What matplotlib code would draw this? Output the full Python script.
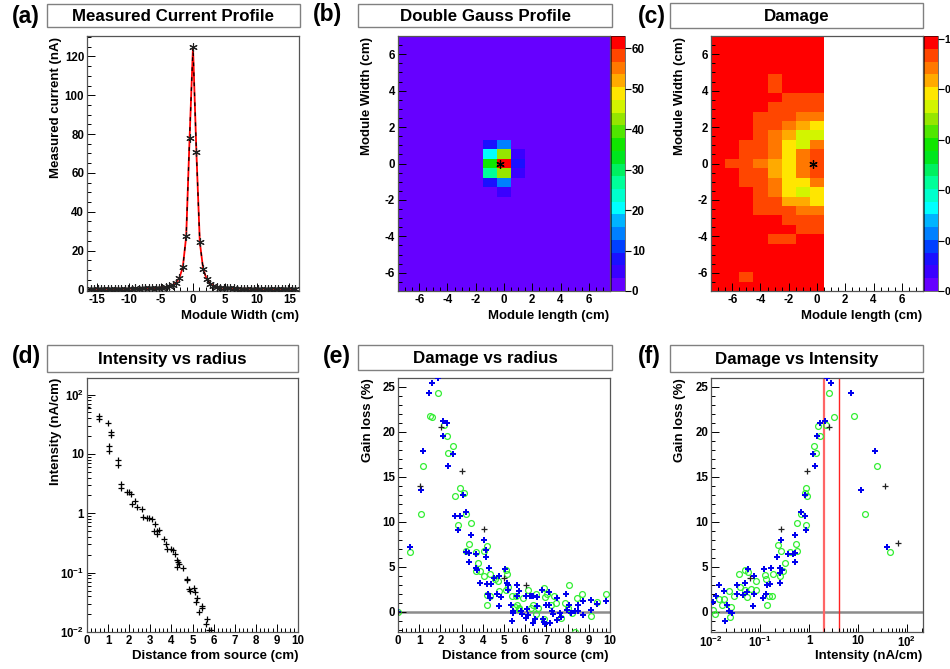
import numpy as np
import matplotlib
matplotlib.use("Agg")
import matplotlib.pyplot as plt
from matplotlib.colors import ListedColormap, BoundaryNorm
from matplotlib.patches import Rectangle
from matplotlib.ticker import MultipleLocator, LogLocator, FuncFormatter, NullFormatter

plt.rcParams['font.family'] = ['Liberation Sans', 'DejaVu Sans']
plt.rcParams['font.weight'] = 'bold'
plt.rcParams['axes.unicode_minus'] = False
plt.rcParams['mathtext.fontset'] = 'custom'
plt.rcParams['mathtext.default'] = 'bf'
plt.rcParams['mathtext.rm'] = 'Liberation Sans:bold'
plt.rcParams['mathtext.bf'] = 'Liberation Sans:bold'
plt.rcParams['mathtext.it'] = 'Liberation Sans:bold'

# ---------------- data ----------------
# (a) measured current profile, bins of 0.53 cm
bin_a = np.arange(-30, 31)
step_a = 0.53
cur_a = [0.2, 0.3, 0.2, 0.3, 0.3, 0.2, 0.3, 0.3, 0.4, 0.3,
         0.4, 0.3, 0.4, 0.5, 0.4, 0.5, 0.6, 0.7, 0.6, 0.7,
         0.8, 1.0, 1.2, 1.6, 2.3, 3.4, 6.0, 11.4, 27.3, 78.0,
         125.0,
         70.6, 24.3, 10.3, 5.5, 2.9, 2.0, 1.4, 1.0, 0.8, 0.6,
         0.5, 0.5, 0.4, 0.4, 0.3, 0.4, 0.3, 0.3, 0.2, 0.3,
         0.3, 0.2, 0.3, 0.2, 0.2, 0.3, 0.2, 0.2, 0.3, 0.2]

# map binning (b), (c)
x_edges = np.linspace(-7.5, 7.5, 16)
y_edges = np.linspace(-7, 7, 28)
src_x, src_y = -0.28, 0.0

# (b) double gauss profile: background + hot cells (x centre, y bin index)
gauss_bg = 0.5
hot_x = [-1, 0, -1, 0, 1, -1, 0, 1, -1, 0, 1, -1, 0, 0]
hot_row = [15, 15, 14, 14, 14, 13, 13, 13, 12, 12, 12, 11, 11, 10]
hot_val = [9, 14, 20, 42, 5, 36, 62, 8, 26, 42, 5, 9, 15, 5]

# (c) damage, columns x = -7 .. 0, rows from bottom (bin 0) to top (bin 26)
R, RO, O, LO, Y, YG = 0.98, 0.93, 0.88, 0.83, 0.78, 0.73
damage_rows = [
    [R, R, R, R, R, R, R, R],        # 0
    [R, R, RO, R, R, R, R, R],       # 1
    [R, R, R, R, R, R, R, R],        # 2
    [R, R, R, R, R, R, R, R],        # 3
    [R, R, R, R, R, R, R, R],        # 4
    [R, R, R, R, RO, RO, R, R],      # 5
    [R, R, R, R, R, R, RO, RO],      # 6
    [R, R, R, R, R, RO, RO, RO],     # 7
    [R, R, R, RO, RO, RO, O, O],     # 8
    [R, R, R, RO, RO, LO, LO, Y],    # 9
    [R, R, R, RO, O, Y, YG, Y],      # 10
    [R, R, RO, RO, O, Y, Y, O],      # 11
    [R, R, RO, RO, LO, Y, O, RO],    # 12
    [R, RO, RO, O, LO, Y, O, RO],    # 13
    [R, R, RO, RO, O, Y, O, RO],     # 14
    [R, R, RO, RO, O, Y, YG, O],     # 15
    [R, R, R, RO, O, LO, YG, YG],    # 16
    [R, R, R, RO, RO, O, LO, Y],     # 17
    [R, R, R, RO, RO, RO, O, O],     # 18
    [R, R, R, R, RO, RO, RO, RO],    # 19
    [R, R, R, R, R, RO, RO, RO],     # 20
    [R, R, R, R, RO, R, R, R],       # 21
    [R, R, R, R, RO, R, R, R],       # 22
    [R, R, R, R, R, R, R, R],        # 23
    [R, R, R, R, R, R, R, R],        # 24
    [R, R, R, R, R, R, R, R],        # 25
    [R, R, R, R, R, R, R, R],        # 26
]

# (d) intensity vs radius
r_d = [0.0, 0.55, 0.55, 1.01, 1.04, 1.04, 1.15, 1.15, 1.45, 1.45,
       1.6, 1.6, 1.88, 2.0, 2.1, 2.13, 2.27, 2.35, 2.6, 2.67,
       2.85, 2.95, 3.06, 3.2, 3.18, 3.3, 3.4, 3.3, 3.66, 3.76,
       3.79, 4.0, 4.06, 4.17, 4.25, 4.3, 4.25, 4.36, 4.55, 4.75,
       4.75, 4.82, 4.88, 5.05, 5.12, 5.21, 5.18, 5.32, 5.43, 5.47,
       5.67, 5.62, 5.78, 5.9]
int_d = [62, 44, 38, 33, 13.6, 11.1, 23.5, 20.6, 7.9, 6.6,
         3.1, 2.7, 2.3, 2.3, 2.1, 1.42, 1.6, 1.28, 1.17, 0.87,
         0.83, 0.84, 0.79, 0.67, 0.51, 0.50, 0.52, 0.44, 0.365, 0.30,
         0.25, 0.25, 0.24, 0.21, 0.166, 0.15, 0.126, 0.14, 0.12, 0.078,
         0.075, 0.054, 0.05, 0.056, 0.047, 0.037, 0.032, 0.022, 0.025, 0.027,
         0.0166, 0.0134, 0.0107, 0.011]

# (e) damage vs radius
blue_e_x = [1.89, 1.62, 1.46, 2.11, 2.30, 2.14, 1.16, 2.61, 2.34, 1.10,
            3.08, 3.22, 2.67, 2.94, 2.83, 3.43, 3.19, 3.33, 3.68, 4.06,
            4.14, 4.17, 3.33, 3.69, 3.73, 4.31, 5.03, 3.87, 4.20, 4.40,
            4.78, 4.54, 5.14, 5.20, 5.63, 5.69, 4.26, 4.32, 4.69, 4.75,
            4.87, 5.31, 5.63, 5.19, 5.42, 5.44, 5.36, 6.02, 6.21, 6.30,
            6.37, 6.57, 6.78, 7.12, 7.48, 7.91, 8.05, 8.51, 8.71, 9.09,
            9.40, 9.80, 5.82, 5.86, 6.10, 6.12, 6.04, 6.38, 6.57, 6.87,
            6.93, 7.17, 7.26, 7.33, 7.50, 7.66, 7.70, 7.96, 8.18, 8.33,
            8.49, 9.09, 8.73, 6.82, 7.00, 7.11, 6.48, 0.57, 0.0]
blue_e_y = [26.0, 25.4, 24.3, 21.2, 21.0, 19.6, 17.9, 17.6, 16.2, 13.5,
            13.0, 11.1, 10.6, 10.6, 9.1, 8.5, 6.6, 6.5, 6.4, 8.0,
            6.9, 6.1, 5.5, 4.9, 4.6, 4.9, 4.8, 3.2, 3.1, 3.1,
            4.0, 3.8, 3.2, 3.0, 3.0, 2.3, 2.0, 1.5, 2.0, 0.6,
            1.6, 0.8, 1.8, 2.4, 0.1, -0.1, -1.0, 1.7, 1.8, 1.7,
            1.8, 1.6, 2.4, 2.2, 1.5, 2.0, 0.7, 0.8, 1.2, 1.3,
            0.9, 1.2, 0.1, -0.2, 0.3, -0.4, -0.7, -1.3, 0.6, -1.1,
            -1.4, -1.3, 0.1, -0.3, -0.9, -0.1, -0.6, 0.2, -0.1, 0.1,
            0.1, 0.15, -0.4, -0.8, 0.8, 0.8, -0.8, 7.2, 0.0]
green_e_x = [1.90, 1.49, 1.62, 2.15, 2.31, 2.59, 2.36, 1.16, 2.94, 3.10,
             2.67, 1.08, 3.22, 3.44, 2.85, 3.33, 4.18, 4.07, 3.19, 3.68,
             3.76, 3.70, 3.85, 4.06, 4.32, 4.56, 4.72, 5.08, 5.16, 0.58,
             0.0, 4.20, 4.21, 4.36, 4.75, 5.09, 5.20, 5.36, 5.57, 5.63,
             5.91, 6.12, 6.49, 6.60, 6.87, 6.93, 7.01, 7.22, 7.45, 7.67,
             7.89, 8.05, 8.46, 8.69, 9.09, 9.40, 9.80, 8.33, 6.87, 6.49,
             5.69, 6.29, 5.50, 5.71, 6.35, 7.34, 8.02, 8.19]
green_e_y = [24.3, 21.8, 21.7, 20.8, 19.6, 18.4, 17.7, 16.2, 13.8, 13.2,
             12.9, 10.9, 10.9, 9.9, 9.6, 7.5, 7.3, 6.8, 6.8, 6.7,
             5.4, 4.5, 4.5, 4.0, 4.2, 3.7, 3.4, 4.6, 4.2, 6.7,
             0.0, 1.85, 0.8, 1.8, 2.3, 2.4, 2.7, 1.7, 1.7, 0.7,
             1.55, 2.4, 2.0, 0.4, 2.6, 1.6, 2.0, 0.7, 1.0, -0.7,
             1.0, 3.0, 1.5, 2.0, -0.5, 1.1, 2.0, -2.3, -0.8, -0.3,
             0.4, 0.4, 0.5, 0.3, 0.7, 1.7, 0.4, -0.1]
black_e_x = [0.0, 1.02, 2.01, 3.02, 4.06, 5.02, 6.02]
black_e_y = [0.0, 14.0, 20.6, 15.7, 9.2, 3.8, 3.0]

# (f) damage vs intensity
blue_f_x = [2.28, 2.84, 7.05, 1.64, 2.17, 1.45, 22.2, 1.18, 1.34, 11.5,
            0.82, 0.70, 0.83, 0.85, 0.265, 39.6, 0.53, 0.48, 0.52, 0.38,
            0.53, 0.227, 0.26, 0.168, 0.28, 0.119, 0.25, 0.25, 0.14, 0.16,
            0.058, 0.076, 0.050, 0.034, 0.054, 0.045, 0.077, 0.034, 0.131, 0.116,
            0.072, 0.0146, 0.018, 0.0126, 0.0108, 0.021, 0.0237, 0.027, 0.019]
blue_f_y = [26.0, 25.4, 24.3, 21.0, 21.2, 19.6, 17.9, 17.6, 16.2, 13.5,
            13.0, 11.1, 10.6, 9.1, 8.0, 7.2, 8.5, 6.4, 6.5, 6.4,
            5.5, 6.1, 4.9, 4.9, 4.6, 4.8, 4.3, 3.2, 3.0, 3.1,
            4.8, 4.0, 3.2, 3.0, 2.2, 1.9, 2.0, 2.0, 2.0, 1.55,
            0.6, 3.0, 2.3, 1.8, 1.1, 0.8, 0.1, -0.15, -1.0]
green_f_x = [2.56, 3.27, 8.37, 2.25, 1.50, 1.67, 1.27, 1.42, 24.8, 0.86,
             0.83, 0.93, 14.1, 0.70, 0.57, 0.86, 0.235, 0.27, 0.41, 0.56,
             0.55, 44.9, 0.32, 0.29, 0.26, 0.18, 0.127, 0.083, 0.058, 0.049,
             0.038, 0.082, 0.064, 0.049, 0.039, 0.023, 0.029, 0.018, 0.0146, 0.017,
             0.13, 0.154, 0.139, 0.054, 0.026, 0.025, 0.012, 0.0108, 0.177]
green_f_y = [24.3, 21.7, 21.8, 20.8, 20.7, 19.6, 18.4, 17.7, 16.2, 13.8,
             13.2, 12.9, 10.9, 10.9, 9.9, 9.6, 7.4, 6.8, 6.7, 6.8,
             7.5, 6.7, 5.4, 4.5, 4.0, 4.2, 4.1, 3.4, 4.4, 4.6,
             4.2, 2.4, 2.5, 2.4, 2.7, 2.3, 1.7, 1.4, 1.45, 0.7,
             3.7, 1.8, 0.8, 1.65, 0.5, -0.6, -0.2, 0.15, 1.8]
black_f_x = [2.6, 0.92, 0.274, 0.063, 34.9, 65.5]
black_f_y = [20.6, 15.7, 9.2, 3.8, 14.0, 7.7]
cut_lines = [2.0, 4.0]

palette = ['#6600ff', '#3a00ff', '#1a10ff', '#0040ff', '#0080ff', '#00b4ff',
           '#00ffff', '#00ffcc', '#00ff99', '#00f060', '#00e61e', '#10e600',
           '#50e600', '#96e600', '#d2f500', '#ffe600', '#ffaa00', '#ff7800',
           '#ff4600', '#ff0000']

# ---------------- figure ----------------
W, H = 950, 669
fig = plt.figure(figsize=(9.5, 6.69), dpi=100)


def box(x0, y0, x1, y1):
    return [x0 / W, 1 - y1 / H, (x1 - x0) / W, (y1 - y0) / H]


def ftext(x, y, s, **kw):
    fig.text(x / W, 1 - y / H, s, **kw)


def style(ax):
    ax.tick_params(which='both', direction='in', top=False, right=False,
                   labelsize=8.3, width=0.7, pad=2)
    ax.tick_params(which='major', length=6)
    ax.tick_params(which='minor', length=3)
    for s in ax.spines.values():
        s.set_color('#555555')
        s.set_linewidth(0.9)


def header(x0, y0, x1, y1, title, tag, tx, ty):
    fig.add_artist(Rectangle((x0 / W, 1 - y1 / H), (x1 - x0) / W, (y1 - y0) / H,
                             transform=fig.transFigure, facecolor='white',
                             edgecolor='#808080', lw=1.0))
    ftext((x0 + x1) / 2, (y0 + y1) / 2 + 1, title, ha='center', va='center',
          fontsize=12.2, fontweight='bold')
    ftext(tx, ty, tag, ha='left', va='center', fontsize=16.5, fontweight='bold')


def logfmt(v, pos):
    e = int(round(np.log10(v)))
    if e == 0:
        return '1'
    if e == 1:
        return '10'
    return r'$10^{%d}$' % e


def cbar(mesh, rect, ticks, labels, size=8.3):
    cax = fig.add_axes(rect)
    cb = fig.colorbar(mesh, cax=cax, ticks=ticks)
    cb.ax.set_yticklabels(labels)
    cb.outline.set_linewidth(0.4)
    cax.tick_params(direction='out', length=4, width=0.8, labelsize=size, pad=1)
    cax.minorticks_off()


axis_kw = dict(fontsize=9.5, fontweight='bold')

# (a)
ax = fig.add_axes(box(87, 36, 299, 291))
x_a = bin_a * step_a
ax.plot(x_a, cur_a, color='red', lw=1.3, zorder=2)
ax.plot(x_a, cur_a, color='black', lw=0.9, ls=(0, (3, 5)), zorder=3)
ax.plot(x_a, cur_a, ls='none', marker=(6, 2, 0), ms=6, mec='#222222', mew=0.8, zorder=4)
ax.set_xlim(-16.5, 16.5)
ax.set_ylim(-0.8, 130.5)
ax.xaxis.set_major_locator(MultipleLocator(5))
ax.xaxis.set_minor_locator(MultipleLocator(1))
ax.yaxis.set_major_locator(MultipleLocator(20))
ax.yaxis.set_minor_locator(MultipleLocator(5))
style(ax)
header(47, 4, 300, 27, 'Measured Current Profile', '(a)', 12, 17)
ftext(299, 316, 'Module Width (cm)', ha='right', va='center', **axis_kw)
ftext(56, 37, 'Measured current (nA)', ha='center', va='top', rotation=90, **axis_kw)

# (b)
cmap = ListedColormap(palette)
gauss = np.full((27, 15), gauss_bg)
for hx, hr, hv in zip(hot_x, hot_row, hot_val):
    gauss[hr, hx + 7] = hv
ax = fig.add_axes(box(398, 36, 610, 291))
norm_b = BoundaryNorm(np.linspace(0, 63, 21), 20)
mesh_b = ax.pcolormesh(x_edges, y_edges, gauss, cmap=cmap, norm=norm_b)
ax.plot([src_x], [src_y], ls='none', marker=(6, 2, 0), ms=6, mec='black', mew=0.9)
ax.set_xlim(-7.5, 7.5)
ax.set_ylim(-7, 7)
ax.xaxis.set_major_locator(MultipleLocator(2))
ax.xaxis.set_minor_locator(MultipleLocator(0.5))
ax.yaxis.set_major_locator(MultipleLocator(2))
ax.yaxis.set_minor_locator(MultipleLocator(0.5))
style(ax)
cbar(mesh_b, box(611, 36, 625, 291), [0, 10, 20, 30, 40, 50, 60],
     ['0', '10', '20', '30', '40', '50', '60'])
header(358, 4, 612, 27, 'Double Gauss Profile', '(b)', 313, 15)
ftext(609, 316, 'Module length (cm)', ha='right', va='center', **axis_kw)
ftext(367, 37, 'Module Width (cm)', ha='center', va='top', rotation=90, **axis_kw)

# (c)
ax = fig.add_axes(box(711, 36, 923, 291))
norm_c = BoundaryNorm(np.linspace(0, 1.012, 21), 20)
mesh_c = ax.pcolormesh(x_edges[:9], y_edges, np.array(damage_rows), cmap=cmap, norm=norm_c)
ax.plot([src_x], [src_y], ls='none', marker=(6, 2, 0), ms=6, mec='black', mew=0.9)
ax.set_xlim(-7.5, 7.5)
ax.set_ylim(-7, 7)
ax.xaxis.set_major_locator(MultipleLocator(2))
ax.xaxis.set_minor_locator(MultipleLocator(0.5))
ax.yaxis.set_major_locator(MultipleLocator(2))
ax.yaxis.set_minor_locator(MultipleLocator(0.5))
style(ax)
cbar(mesh_c, box(923.5, 36, 937.5, 291), [0, 0.2, 0.4, 0.6, 0.8, 1.0],
     ['0', '0.2', '0.4', '0.6', '0.8', '1'], size=7.5)
header(670, 3, 923, 28, 'Damage', '(c)', 638, 17)
ftext(922, 316, 'Module length (cm)', ha='right', va='center', **axis_kw)
ftext(680, 37, 'Module Width (cm)', ha='center', va='top', rotation=90, **axis_kw)

# (d)
ax = fig.add_axes(box(87, 378, 298, 632))
ax.plot(r_d, int_d, ls='none', marker='+', ms=5, mew=0.9, color='black')
ax.set_yscale('log')
ax.set_xlim(0, 10)
ax.set_ylim(0.01, 190)
ax.xaxis.set_major_locator(MultipleLocator(1))
ax.xaxis.set_minor_locator(MultipleLocator(0.2))
ax.yaxis.set_major_locator(LogLocator(10, numticks=10))
ax.yaxis.set_minor_locator(LogLocator(10, subs=np.arange(2, 10), numticks=20))
ax.yaxis.set_major_formatter(FuncFormatter(logfmt))
ax.yaxis.set_minor_formatter(NullFormatter())
style(ax)
header(47, 345, 298, 372, 'Intensity vs radius', '(d)', 12, 356)
ftext(298, 656, 'Distance from source (cm)', ha='right', va='center', **axis_kw)
ftext(56, 378, 'Intensity (nA/cm)', ha='center', va='top', rotation=90, **axis_kw)

# (e)
ax = fig.add_axes(box(398, 378, 610, 632))
ax.axhline(0, color='#8c8c8c', lw=1.8, zorder=1)
ax.plot(green_e_x, green_e_y, ls='none', marker='o', ms=4.2, mfc='none', mec='#33ee33', mew=0.9, zorder=2)
ax.plot(blue_e_x, blue_e_y, ls='none', marker='P', ms=4.6, color='#0000ee', mew=0, zorder=3)
ax.plot(black_e_x, black_e_y, ls='none', marker='+', ms=5, mew=0.9, color='#222222', zorder=4)
ax.set_xlim(0, 10)
ax.set_ylim(-2.25, 26)
ax.xaxis.set_major_locator(MultipleLocator(1))
ax.xaxis.set_minor_locator(MultipleLocator(0.2))
ax.yaxis.set_major_locator(MultipleLocator(5))
ax.yaxis.set_minor_locator(MultipleLocator(1))
style(ax)
header(358, 345, 612, 370, 'Damage vs radius', '(e)', 323, 357)
ftext(609, 656, 'Distance from source (cm)', ha='right', va='center', **axis_kw)
ftext(368, 378, 'Gain loss (%)', ha='center', va='top', rotation=90, **axis_kw)

# (f)
ax = fig.add_axes(box(711, 378, 923, 632))
ax.axhline(0, color='#8c8c8c', lw=1.8, zorder=1)
ax.axvline(cut_lines[0], color='#ff6666', lw=1.6, zorder=1)
ax.axvline(cut_lines[1], color='#ff2222', lw=1.0, zorder=1)
ax.plot(green_f_x, green_f_y, ls='none', marker='o', ms=4.2, mfc='none', mec='#33ee33', mew=0.9, zorder=2)
ax.plot(blue_f_x, blue_f_y, ls='none', marker='P', ms=4.6, color='#0000ee', mew=0, zorder=3)
ax.plot(black_f_x, black_f_y, ls='none', marker='+', ms=5, mew=0.9, color='#222222', zorder=4)
ax.set_xscale('log')
ax.set_xlim(0.01, 212)
ax.set_ylim(-2.25, 26)
ax.xaxis.set_major_locator(LogLocator(10, numticks=10))
ax.xaxis.set_minor_locator(LogLocator(10, subs=np.arange(2, 10), numticks=20))
ax.xaxis.set_major_formatter(FuncFormatter(logfmt))
ax.xaxis.set_minor_formatter(NullFormatter())
ax.yaxis.set_major_locator(MultipleLocator(5))
ax.yaxis.set_minor_locator(MultipleLocator(1))
style(ax)
header(670, 345, 923, 372, 'Damage vs Intensity', '(f)', 638, 357)
ftext(922, 656, 'Intensity (nA/cm)', ha='right', va='center', **axis_kw)
ftext(680, 378, 'Gain loss (%)', ha='center', va='top', rotation=90, **axis_kw)

fig.savefig('out.png', dpi=100)
